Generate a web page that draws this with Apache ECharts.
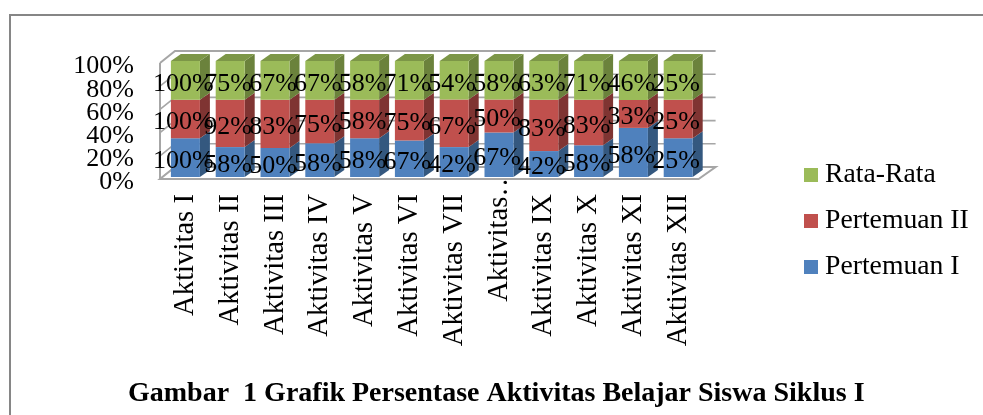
<!DOCTYPE html>
<html><head><meta charset="utf-8">
<style>html,body{margin:0;padding:0;background:#fff}#c{width:983px;height:415px}</style>
<script src="https://cdn.jsdelivr.net/npm/echarts@6/dist/echarts.min.js"></script>
</head><body><div id="c"></div>
<script>
const categories = ['Aktivitas I','Aktivitas II','Aktivitas III','Aktivitas IV','Aktivitas V','Aktivitas VI','Aktivitas VII','Aktivitas…','Aktivitas IX','Aktivitas X','Aktivitas XI','Aktivitas XII'];
const pertemuan1 = [100,58,50,58,58,67,42,67,42,58,58,25];
const pertemuan2 = [100,92,83,75,58,75,67,50,83,83,33,25];
const rataRata   = [100,75,67,67,58,71,54,58,63,71,46,25];
const yTicks = [0,20,40,60,80,100];
const titleText = 'Gambar  1 Grafik Persentase Aktivitas Belajar Siswa Siklus I';

const FONT = '"Liberation Serif","Times New Roman",serif';
const stacks = [
  {name:'Pertemuan I',  values:pertemuan1, front:'#4F81BD', side:'#34587F', top:'#3F6797'},
  {name:'Pertemuan II', values:pertemuan2, front:'#C0504D', side:'#7F3432', top:'#9A403E'},
  {name:'Rata-Rata',    values:rataRata,   front:'#9BBB59', side:'#6B823C', top:'#7C9647'}
];
const totals = categories.map((_,i)=>stacks.reduce((s,k)=>s+k.values[i],0));

function barSeries(k, idx){
  const data = categories.map((_,i)=>{
    let lo = 0; for(let j=0;j<idx;j++) lo += stacks[j].values[i];
    const hi = lo + k.values[i];
    return [i, lo/totals[i]*100, hi/totals[i]*100, k.values[i]];
  });
  return {
    type:'custom', name:k.name, coordinateSystem:'cartesian2d', data,
    itemStyle:{color:k.front}, encode:{x:0,y:[1,2]}, silent:true,
    renderItem(params, api){
      const c = api.value(0);
      const a = api.coord([c, api.value(1)]), b = api.coord([c, api.value(2)]);
      const w = 29, dx = 10, dy = 7, x = a[0]-w/2, x2 = x+w;
      const children = [
        {type:'polygon', shape:{points:[[x2,a[1]],[x2+dx,a[1]-dy],[x2+dx,b[1]-dy],[x2,b[1]]]}, style:{fill:k.side}},
        {type:'rect', shape:{x, y:b[1], width:w, height:a[1]-b[1]}, style:{fill:k.front}}
      ];
      if(idx===2) children.push({type:'polygon', shape:{points:[[x,b[1]],[x2,b[1]],[x2+dx,b[1]-dy],[x+dx,b[1]-dy]]}, style:{fill:k.top}});
      children.push({type:'text', z2:100, style:{
        text:api.value(3)+'%', x:a[0]-2, y:(a[1]+b[1])/2+3.5, align:'center', verticalAlign:'middle',
        font:'26px '+FONT, fill:'#000'}});
      return {type:'group', children};
    }
  };
}

const wallSeries = {
  type:'custom', name:'wall', coordinateSystem:'cartesian2d', silent:true, z:1,
  data:yTicks.map(v=>[0,v]), encode:{x:0,y:1},
  renderItem(params, api){
    const v = api.value(1), cs = params.coordSys;
    const y = api.coord([0,v])[1];
    const L = cs.x-3, R = cs.x+cs.width, line = {stroke:'#A6A6A6', lineWidth:v===100?2:1.6, fill:null};
    const ch = [{type:'polyline', shape:{points:[[L,y+2],[L+15,y-10],[R+15,y-10]]}, style:line}];
    if(v===0){
      ch.push({type:'polygon', shape:{points:[[L,y+2],[R-2,y+2],[R+15,y-10],[L+15,y-10]]}, style:{fill:'#fff',stroke:'#A6A6A6',lineWidth:2}});
      ch.push({type:'line', shape:{x1:L,y1:y+2,x2:L,y2:api.coord([0,100])[1]+2}, style:{stroke:'#A6A6A6',lineWidth:2}});
    }
    ch.push({type:'text', style:{text:v+'%', x:cs.x-29, y:y+5.5, align:'right', verticalAlign:'middle', font:'26px '+FONT, fill:'#000'}});
    return {type:'group', children:ch};
  }
};

const chart = echarts.init(document.getElementById('c'), null, {renderer:'canvas'});
chart.setOption({
  animation:false,
  backgroundColor:'#fff',
  textStyle:{fontFamily:FONT,color:'#000'},
  title:{text:titleText, left:128, top:380, itemGap:0, padding:0,
    textStyle:{fontFamily:FONT,fontSize:28,fontWeight:'bold',color:'#000',lineHeight:28}},
  graphic:[{type:'polyline', silent:true, shape:{points:[[10,415],[10,15],[983,15]]}, style:{stroke:'#868686',lineWidth:2,fill:null}}],
  legend:{orient:'vertical', left:804, top:160, padding:0, data:['Rata-Rata','Pertemuan II','Pertemuan I'],
    icon:'rect', itemWidth:14, itemHeight:14, itemGap:16, selectedMode:false,
    textStyle:{fontFamily:FONT,fontSize:27.7,color:'#000',lineHeight:30,padding:[0,0,0,2]}},
  grid:{left:163, top:61, width:537.6, height:116},
  xAxis:{type:'category', data:categories, axisLine:{show:false}, axisTick:{show:false}, splitLine:{show:false},
    axisLabel:{interval:0, rotate:90, margin:-9, color:'#000', fontFamily:FONT, fontSize:28.7, hideOverlap:false,
      formatter:v=>v.endsWith('…')?'{e|'+v+'}':'{n|'+v+'}',
      rich:{n:{fontFamily:FONT,fontSize:28.7,color:'#000',padding:[0,26,0,0]},e:{fontFamily:FONT,fontSize:28.7,color:'#000'}}}},
  yAxis:{type:'value', min:0, max:100, interval:20, axisLine:{show:false}, axisTick:{show:false}, splitLine:{show:false},
    axisLabel:{show:false}},
  series:[wallSeries, ...stacks.map(barSeries)]
});
</script></body></html>
